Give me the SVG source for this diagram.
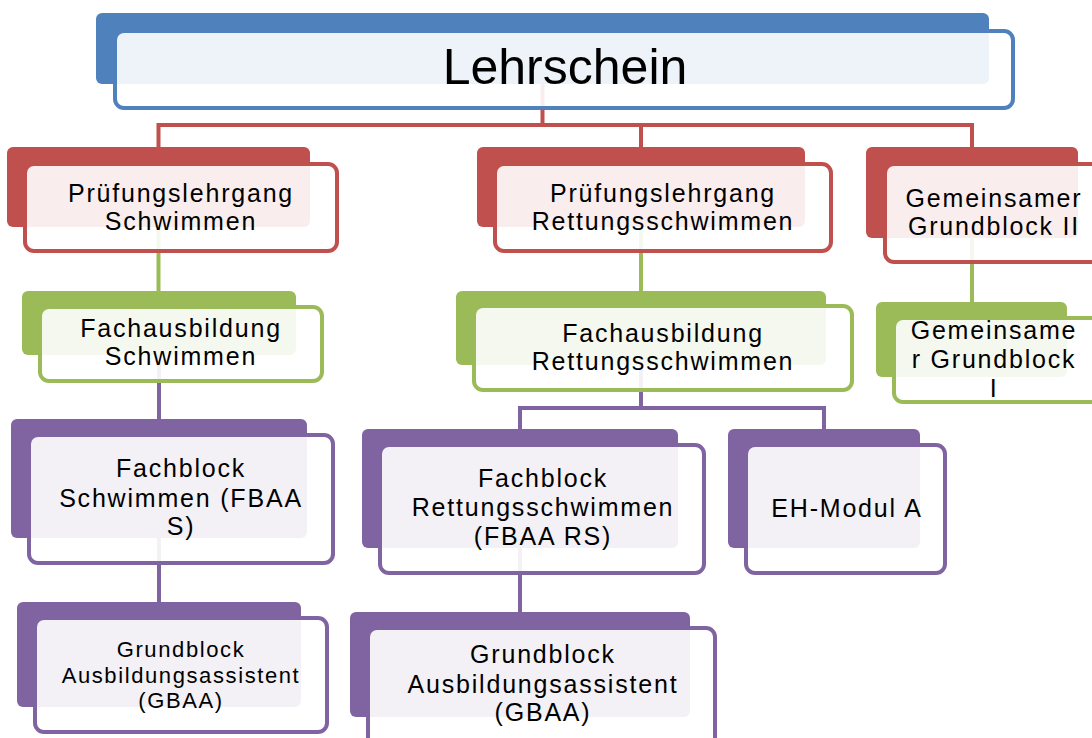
<svg xmlns="http://www.w3.org/2000/svg" width="1092" height="738" viewBox="0 0 1092 738">
<style>
.bk{stroke:none}
.fr{fill:#ffffff;fill-opacity:0.9;stroke-width:4}
.b .bk{fill:#4F81BD}.b .fr{stroke:#4F81BD}
.r .bk{fill:#C0504D}.r .fr{stroke:#C0504D}
.g .bk{fill:#9BBB59}.g .fr{stroke:#9BBB59}
.p .bk{fill:#8064A2}.p .fr{stroke:#8064A2}
text{font-family:"Liberation Sans",Arial,sans-serif;font-size:25px;letter-spacing:1.8px;fill:#000;text-anchor:middle}
.sm{font-size:22px;letter-spacing:1.6px}
.title{font-size:50px;letter-spacing:0}
.c{fill:none;stroke-width:4}
</style>
<rect width="1092" height="738" fill="#ffffff"/>
<g id="connectors">
<path class="c" stroke="#C0504D" d="M542.5 84V125M157 125H972M158.5 123V148M641 123V148M972 123V148"/>
<path class="c" stroke="#9BBB59" d="M158.5 227V291M641 227V291M972 238V302"/>
<path class="c" stroke="#8064A2" d="M159 355V419M641 365V408M518 408H826M520 406V429M824 406V429M159 538V602M520 548V612"/>
</g>
<g id="n-lehrschein" class="b">
<rect class="bk" x="96" y="13" width="893" height="71" rx="6"/>
<rect class="fr" x="115" y="31" width="898" height="77" rx="9"/>
<text class="title" x="565" y="84">Lehrschein</text>
</g>
<g id="n-pl-schwimmen" class="r">
<rect class="bk" x="7" y="147" width="303" height="80" rx="6"/>
<rect class="fr" x="25" y="164" width="312" height="87" rx="9"/>
<text x="181" y="202">Prüfungslehrgang</text>
<text x="181" y="230">Schwimmen</text>
</g>
<g id="n-pl-rettung" class="r">
<rect class="bk" x="477" y="147" width="328" height="80" rx="6"/>
<rect class="fr" x="495" y="164" width="336" height="87" rx="9"/>
<text x="663" y="202">Prüfungslehrgang</text>
<text x="663" y="230">Rettungsschwimmen</text>
</g>
<g id="n-gg2" class="r">
<rect class="bk" x="866" y="147" width="212" height="91" rx="6"/>
<rect class="fr" x="885" y="164" width="220" height="98" rx="9"/>
<text x="994" y="207">Gemeinsamer</text>
<text x="994" y="235">Grundblock II</text>
</g>
<g id="n-fa-schwimmen" class="g">
<rect class="bk" x="22" y="291" width="274" height="64" rx="6"/>
<rect class="fr" x="40" y="307" width="282" height="74" rx="9"/>
<text x="181" y="337">Fachausbildung</text>
<text x="181" y="365">Schwimmen</text>
</g>
<g id="n-fa-rettung" class="g">
<rect class="bk" x="456" y="291" width="370" height="74" rx="6"/>
<rect class="fr" x="474" y="306" width="378" height="84" rx="9"/>
<text x="663" y="342">Fachausbildung</text>
<text x="663" y="370">Rettungsschwimmen</text>
</g>
<g id="n-gg1" class="g">
<rect class="bk" x="876" y="302" width="191" height="75" rx="6"/>
<rect class="fr" x="894" y="318" width="210" height="84" rx="9"/>
<text x="994" y="339">Gemeinsame</text>
<text x="994" y="368">r Grundblock</text>
<text x="994" y="397">I</text>
</g>
<g id="n-fb-schwimmen" class="p">
<rect class="bk" x="11" y="419" width="296" height="119" rx="6"/>
<rect class="fr" x="29" y="435" width="304" height="128" rx="9"/>
<text x="181" y="477">Fachblock</text>
<text x="181" y="507">Schwimmen (FBAA</text>
<text x="181" y="535">S)</text>
</g>
<g id="n-fb-rettung" class="p">
<rect class="bk" x="362" y="429" width="316" height="119" rx="6"/>
<rect class="fr" x="380" y="445" width="324" height="128" rx="9"/>
<text x="543" y="487">Fachblock</text>
<text x="543" y="516">Rettungsschwimmen</text>
<text x="543" y="545">(FBAA RS)</text>
</g>
<g id="n-eh" class="p">
<rect class="bk" x="728" y="429" width="192" height="119" rx="6"/>
<rect class="fr" x="746" y="445" width="199" height="128" rx="9"/>
<text x="847" y="517">EH-Modul A</text>
</g>
<g id="n-gbaa1" class="p">
<rect class="bk" x="17" y="602" width="284" height="105" rx="6"/>
<rect class="fr" x="35" y="618" width="292" height="114" rx="9"/>
<text class="sm" x="181" y="657">Grundblock</text>
<text class="sm" x="181" y="683">Ausbildungsassistent</text>
<text class="sm" x="181" y="708">(GBAA)</text>
</g>
<g id="n-gbaa2" class="p">
<rect class="bk" x="350" y="612" width="340" height="105" rx="6"/>
<rect class="fr" x="368" y="628" width="347" height="120" rx="9"/>
<text x="543" y="663">Grundblock</text>
<text x="543" y="693">Ausbildungsassistent</text>
<text x="543" y="721">(GBAA)</text>
</g>
</svg>
